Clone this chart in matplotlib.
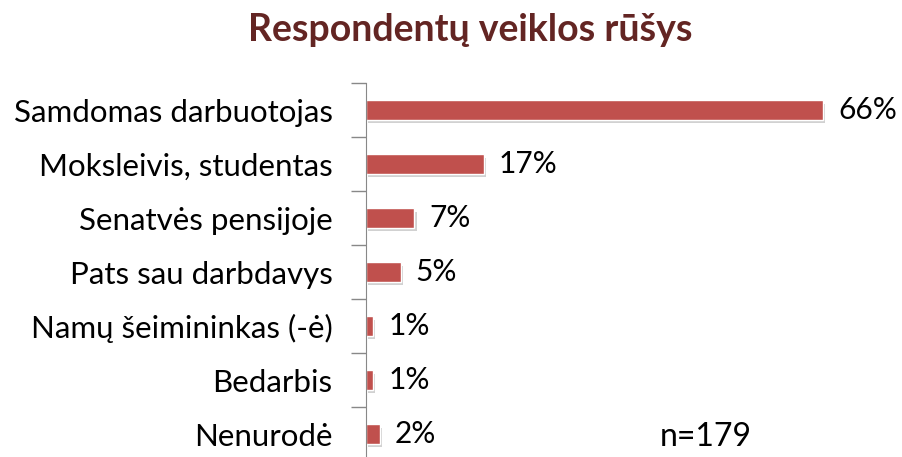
import matplotlib.pyplot as plt
import matplotlib.patheffects as pe

categories = ["Samdomas darbuotojas", "Moksleivis, studentas", "Senatvės pensijoje",
              "Pats sau darbdavys", "Namų šeimininkas (-ė)", "Bedarbis", "Nenurodė"]
values = [66, 17, 7, 5, 1, 1, 2]
labels = ["66%", "17%", "7%", "5%", "1%", "1%", "2%"]

plt.rcParams['font.family'] = ['Lato', 'DejaVu Sans']

fig = plt.figure(figsize=(9.02, 4.57), dpi=100)
ax = fig.add_axes([366 / 902, -4 / 457, 540 / 902, 378 / 457])

y = list(range(len(categories)))
bars = ax.barh(y, values, height=0.36, color="#C0504D", edgecolor="white", linewidth=1)
for b in bars:
    b.set_path_effects([pe.SimplePatchShadow(offset=(1.5, -2.5), shadow_rgbFace="#999999", alpha=0.45),
                        pe.Normal()])

for yi, v, lab in zip(y, values, labels):
    ax.text(v + 2.2, yi, lab, va="center", ha="left", fontsize=21.5, color="black")

ax.set_xlim(0, 78)
ax.set_ylim(len(categories) - 0.5, -0.5)
ax.set_yticks(y)
ax.set_yticklabels(categories, fontsize=22.5)
ax.set_yticks([i - 0.5 for i in range(len(categories) + 1)], minor=True)
ax.tick_params(axis="y", which="major", length=0, pad=24)
ax.tick_params(axis="y", which="minor", length=11, color="#888888", width=1)
ax.set_xticks([])
for s in ["top", "right", "bottom"]:
    ax.spines[s].set_visible(False)
ax.spines["left"].set_color("#888888")

fig.text(470 / 902, 1 - 30 / 457, "Respondentų veiklos rūšys", ha="center", va="center",
         fontsize=27, fontweight="bold", color="#632523")
fig.text(660 / 902, 1 - 437 / 457, "n=179", ha="left", va="center", fontsize=23, color="black")

fig.savefig("out.png", dpi=100)
